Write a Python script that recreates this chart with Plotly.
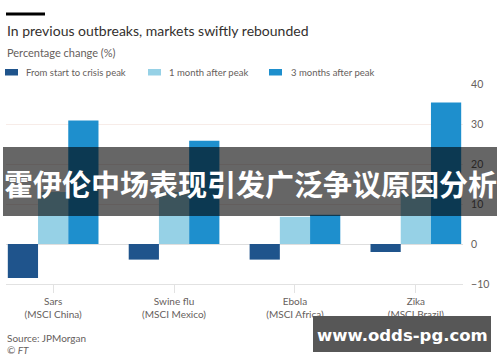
import plotly.graph_objects as go

categories = ["Sars<br>(MSCI China)", "Swine flu<br>(MSCI Mexico)", "Ebola<br>(MSCI Africa)", "Zika<br>(MSCI Brazil)"]
series_names = ["From start to crisis peak", "1 month after peak", "3 months after peak"]
start_to_peak = [-8.5, -3.9, -3.9, -2.0]
one_month_after = [13.0, 13.0, 6.8, 12.6]
three_months_after = [30.9, 25.8, 7.3, 35.4]
y_ticks = [-10, 0, 10, 20, 30, 40]
colors = ["#1f548c", "#96d1e6", "#1e8fcd"]

title_text = "In previous outbreaks, markets swiftly rebounded"
subtitle_text = "Percentage change (%)"
source_text = "Source: JPMorgan"
credit_text = "© FT"
banner_text = "霍伊伦中场表现引发广泛争议原因分析"
watermark_text = "www.odds-pg.com"

FONT = "Lato, 'Open Sans', sans-serif"
GREY = "#66605c"

fig = go.Figure()
for name, vals, col in zip(series_names, [start_to_peak, one_month_after, three_months_after], colors):
    fig.add_trace(go.Bar(x=categories, y=vals, name=name, marker=dict(color=col, line=dict(width=0)),
                         showlegend=False))

# plot area: x 6..463, y 84..284
W, H = 500, 362
L, R, T, B = 6, 463, 84, 284
pw, ph = R - L, B - T


def px(x):
    return (x - L) / pw


def py(y):
    return (B - y) / ph


fig.update_layout(
    width=W, height=H,
    margin=dict(l=L, r=W - R, t=T, b=H - B, pad=0),
    paper_bgcolor="white", plot_bgcolor="white",
    barmode="group", bargap=0.25, bargroupgap=0,
    font=dict(family=FONT, color=GREY, size=10),
    xaxis=dict(range=[-0.39, 3.39], showgrid=False, zeroline=False,
               showline=True, linecolor="#e2e2e2", linewidth=1,
               ticks="outside", ticklen=8, tickcolor="#e2e2e2", tickwidth=1,
               tickfont=dict(size=10, color=GREY, family=FONT), fixedrange=True),
    yaxis=dict(range=[-10, 40], side="right", tickvals=y_ticks,
               showgrid=True, gridcolor="#f7ece8", gridwidth=1,
               zeroline=True, zerolinecolor="#dedede", zerolinewidth=1,
               ticks="outside", ticklen=5, tickcolor="rgba(0,0,0,0)",
               tickfont=dict(size=10.5, color=GREY, family=FONT), fixedrange=True),
)

shapes = []
annotations = []
# top black bar
shapes.append(dict(type="rect", xref="paper", yref="paper", x0=px(6), x1=px(45), y0=py(15.5), y1=py(12.5),
                   fillcolor="#000000", line=dict(width=0)))
annotations.append(dict(text=title_text, xref="paper", yref="paper", x=px(5), y=py(30), xanchor="left",
                        yanchor="middle", showarrow=False, font=dict(size=14, color="#33302e", family=FONT)))
annotations.append(dict(text=subtitle_text, xref="paper", yref="paper", x=px(5), y=py(52), xanchor="left",
                        yanchor="middle", showarrow=False, font=dict(size=11, color=GREY, family=FONT)))
# legend
sw_x = [5, 148, 269]
tx_x = [24, 167, 289]
for name, col, sx, tx in zip(series_names, colors, sw_x, tx_x):
    shapes.append(dict(type="rect", xref="paper", yref="paper", x0=px(sx), x1=px(sx + 13), y0=py(75.5), y1=py(69),
                       fillcolor=col, line=dict(width=0)))
    annotations.append(dict(text=name, xref="paper", yref="paper", x=px(tx), y=py(72.5), xanchor="left",
                            yanchor="middle", showarrow=False, font=dict(size=9.5, color=GREY, family=FONT)))
annotations.append(dict(text=source_text, xref="paper", yref="paper", x=px(5), y=py(338), xanchor="left",
                        yanchor="middle", showarrow=False, font=dict(size=10, color=GREY, family=FONT)))
annotations.append(dict(text="<i>" + credit_text + "</i>", xref="paper", yref="paper", x=px(5), y=py(350),
                        xanchor="left", yanchor="middle", showarrow=False, font=dict(size=10, color=GREY, family=FONT)))
# banner overlay
shapes.append(dict(type="rect", xref="paper", yref="paper", x0=px(3), x1=px(497), y0=py(216), y1=py(147),
                   fillcolor="rgba(0,0,0,0.6)", line=dict(width=0), layer="above"))
annotations.append(dict(text="<b>" + banner_text + "</b>", xref="paper", yref="paper", x=px(250), y=py(183),
                        xanchor="center", yanchor="middle", showarrow=False,
                        font=dict(size=29, color="white", family="'Noto Sans CJK SC', sans-serif")))
# watermark
shapes.append(dict(type="rect", xref="paper", yref="paper", x0=px(313), x1=px(491), y0=py(352), y1=py(316),
                   fillcolor="#575757", line=dict(width=0), layer="above"))
annotations.append(dict(text="<b>" + watermark_text + "</b>", xref="paper", yref="paper", x=px(402), y=py(335),
                        xanchor="center", yanchor="middle", showarrow=False,
                        font=dict(size=16.5, color="white", family="'DejaVu Sans', sans-serif")))

fig.update_layout(shapes=shapes, annotations=annotations)
fig.write_html("out.html", config={"displayModeBar": False, "staticPlot": True},
               post_script="document.body.style.margin='0';document.body.style.overflow='hidden';")
